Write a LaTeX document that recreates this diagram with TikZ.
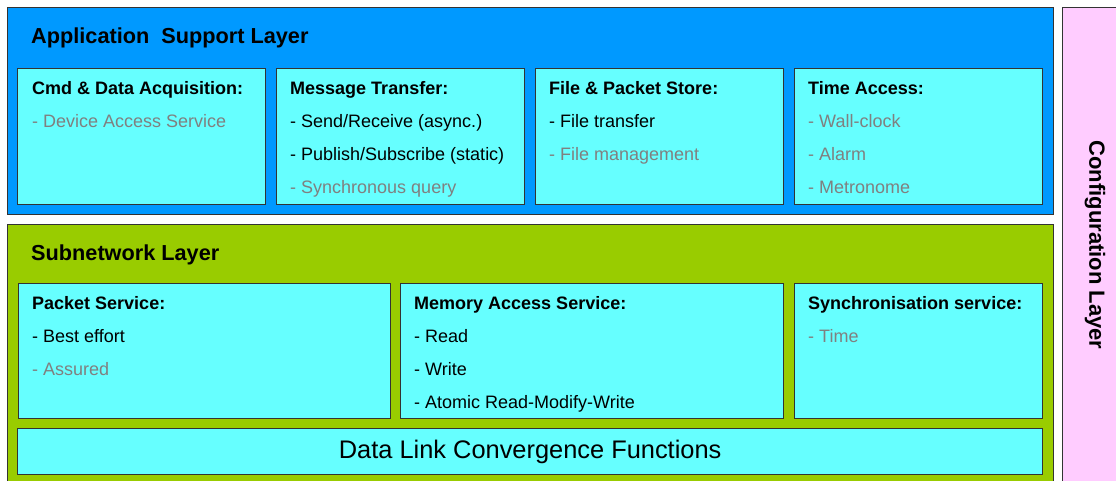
\documentclass[tikz,border=0pt]{standalone}
\usepackage{fontspec}
\setmainfont{Liberation Sans}
\usetikzlibrary{positioning}

\definecolor{asblue}{HTML}{0099FF}
\definecolor{svccyan}{HTML}{66FFFF}
\definecolor{snetgreen}{HTML}{99CC00}
\definecolor{cfgpink}{HTML}{FFCCFF}
\definecolor{txtgray}{HTML}{808080}
\definecolor{edgegray}{HTML}{333333}

\begin{document}
\begin{tikzpicture}[x=1pt, y=-1pt]
    \tikzstyle{layer} = [rectangle, draw=edgegray, line width=1.3pt, anchor=north west, inner sep=0pt]
    \tikzstyle{svcbox} = [rectangle, draw=edgegray, line width=1.3pt, fill=svccyan, inner sep=0pt, minimum height=136pt]
    \tikzstyle{svctext} = [anchor=north west, inner sep=0pt, align=left, font=\fontsize{18}{33}\selectfont]
    \tikzstyle{title} = [anchor=base west, inner sep=0pt, font=\fontsize{21.7}{26}\selectfont\bfseries]

    \clip (0,0) rectangle (1116,481);
    \fill [white] (0,0) rectangle (1116,481);

    % layers
    \node [layer, fill=asblue, minimum width=1046pt, minimum height=207pt] (asl) at (7,7) {};
    \node [layer, fill=snetgreen, minimum width=1046pt, minimum height=280pt] (snl) at (7,224) {};
    \node [layer, fill=cfgpink, minimum width=80pt, minimum height=490pt] (cfg) at (1062,7) {};

    \node [title] (asltitle) at ([shift={(24,37)}]asl.north west) {Application\ \ Support Layer};
    \node [title] (snltitle) at ([shift={(24,36)}]snl.north west) {Subnetwork Layer};
    \node [rotate=-90, inner sep=0pt, font=\fontsize{22}{26}\selectfont\bfseries] (cfgtitle) at (1095,245) {Configuration Layer};

    % application support services
    \node [svcbox, minimum width=248pt, anchor=north west] (cmd) at (17,68) {};
    \node [svcbox, minimum width=248pt, right=9.7pt of cmd] (msg) {};
    \node [svcbox, minimum width=248pt, right=9.7pt of msg] (file) {};
    \node [svcbox, minimum width=248pt, right=9.7pt of file] (time) {};

    \node [svctext] (cmdtxt) at ([shift={(15,13)}]cmd.north west) {\textbf{Cmd \& Data Acquisition:}\\\textcolor{txtgray}{- Device Access Service}};
    \node [svctext] (msgtxt) at ([shift={(14,13)}]msg.north west) {\textbf{Message Transfer:}\\- Send/Receive (async.)\\- Publish/Subscribe (static)\\\textcolor{txtgray}{- Synchronous query}};
    \node [svctext] (filetxt) at ([shift={(14,13)}]file.north west) {\textbf{File \& Packet Store:}\\- File transfer\\\textcolor{txtgray}{- File management}};
    \node [svctext] (timetxt) at ([shift={(14,13)}]time.north west) {\textbf{Time Access:}\\\textcolor{txtgray}{- Wall-clock}\\\textcolor{txtgray}{- Alarm}\\\textcolor{txtgray}{- Metronome}};

    % subnetwork services
    \node [svcbox, minimum width=372pt, minimum height=135pt, anchor=north west] (pkt) at (18,283) {};
    \node [svcbox, minimum width=383pt, minimum height=135pt, right=8.7pt of pkt] (mem) {};
    \node [svcbox, minimum width=248pt, minimum height=135pt, right=9.7pt of mem] (sync) {};
    \node [svcbox, minimum width=1025pt, minimum height=46pt, anchor=north west, font=\fontsize{25.4}{30}\selectfont] (dlcf) at (17,428) {Data Link Convergence Functions};

    \node [svctext] (pkttxt) at ([shift={(14,13)}]pkt.north west) {\textbf{Packet Service:}\\- Best effort\\\textcolor{txtgray}{- Assured}};
    \node [svctext] (memtxt) at ([shift={(14,13)}]mem.north west) {\textbf{Memory Access Service:}\\- Read\\- Write\\- Atomic Read-Modify-Write};
    \node [svctext] (synctxt) at ([shift={(14,13)}]sync.north west) {\textbf{Synchronisation service:}\\\textcolor{txtgray}{- Time}};
\end{tikzpicture}
\end{document}
